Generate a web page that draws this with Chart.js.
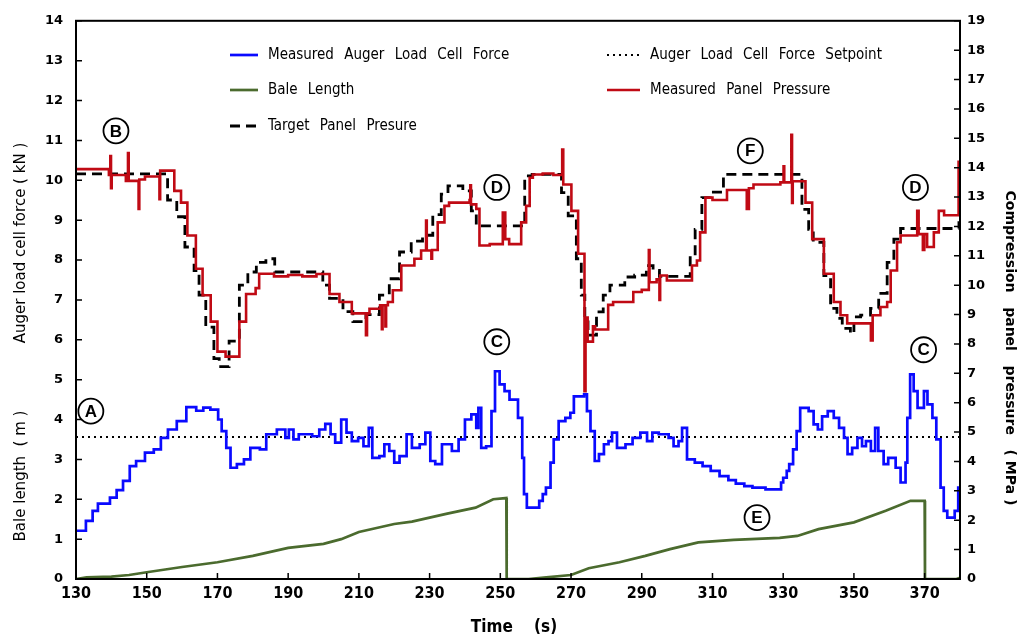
<!DOCTYPE html>
<html>
<head>
<meta charset="utf-8">
<script src="https://cdn.jsdelivr.net/npm/chart.js@4"></script>
<style>
  body { margin: 0; background: #fff; }
  #wrap { width: 1021px; height: 640px; }
</style>
</head>
<body>
<div id="wrap"><canvas id="myChart"></canvas></div>
<script>
// Dados: tempo (s) e valores de cada série
const forceTime = [130,132.8,134.7,136.2,139.6,141.5,143.3,145.2,147,149.5,152,154,156,158.5,161.2,164,166,168,170.2,171.2,172.5,173.7,175.5,177.5,179.3,182,183.8,186.8,189.2,190.2,191.5,193,196.8,198.8,200.5,202,203.3,205,206.5,208,209.8,211.3,212.8,213.8,215.8,217.2,218.6,220,221.5,223.5,225,227.2,228.8,230.2,231.6,233.5,236.3,238.2,240,241.8,243.2,243.8,244.6,246,247.5,248.5,249.8,251.2,252.6,255,256.2,256.7,257.5,261,262,262.9,264.2,265.1,266.5,268.4,269.8,270.8,273.7,274.5,275.5,276.7,277.9,279.3,280.6,281.6,283,285.4,287.4,289.6,291.5,293,294.8,297.6,299,300.4,301.4,302.8,305,307.2,309.5,312,314.5,316.6,319,321.3,325,329.4,330,331,331.7,332.8,333.8,334.8,337.2,338.6,339.8,341,342.6,344.3,345.8,347.2,348.2,349.5,351,352.3,353.4,354.8,356,356.9,358.4,359.7,361.8,363.2,364.6,365.1,365.9,366.9,368,369.8,370.8,372.2,373.3,374.5,375.4,376.4,378.5,379.5,380];
const forceKN = [1.21,1.46,1.71,1.89,2.04,2.23,2.46,2.83,2.96,3.17,3.25,3.54,3.75,3.96,4.31,4.22,4.3,4.25,4.0,3.71,3.29,2.79,2.88,3.0,3.29,3.25,3.63,3.75,3.54,3.75,3.5,3.63,3.58,3.75,3.89,3.63,3.42,4.0,3.67,3.46,3.54,3.33,3.79,3.04,3.08,3.38,3.21,2.92,3.08,3.63,3.29,3.38,3.67,2.96,2.88,3.38,3.21,3.5,4.0,4.13,3.79,4.29,3.29,3.33,4.21,5.21,4.88,4.71,4.5,4.04,3.04,2.13,1.79,1.96,2.13,2.29,2.92,3.5,3.96,4.04,4.17,4.58,4.63,4.21,3.71,2.96,3.13,3.38,3.46,3.67,3.29,3.38,3.54,3.67,3.46,3.67,3.63,3.54,3.33,3.46,3.79,3.0,2.92,2.83,2.71,2.58,2.48,2.39,2.33,2.29,2.25,2.42,2.54,2.71,2.88,3.25,3.71,4.29,4.21,3.88,3.75,4.08,4.21,4.04,3.79,3.54,3.13,3.29,3.54,3.33,3.46,3.21,3.79,3.21,2.88,3.04,2.79,2.42,2.92,4.04,5.13,4.71,4.29,4.71,4.38,4.04,3.5,2.29,1.71,1.54,1.71,2.29,2.29];

const setpointKN = 3.56;

const lengthTime = [130,133,140,145,150,160,170,180,190,200,205,210,220,225,235,243,248,251.7,251.8,258,263,270,275,283.7,291,298,306,316,329,334,340,350,359,366,370,370.1,379,380];
const lengthM = [0,0.04,0.06,0.1,0.17,0.3,0.42,0.58,0.78,0.88,1.0,1.18,1.38,1.44,1.64,1.79,2.0,2.03,0,0,0.04,0.1,0.27,0.42,0.58,0.75,0.92,0.98,1.03,1.08,1.25,1.42,1.71,1.96,1.96,0,0,0.03];

const pressureTime = [130,139.3,139.7,139.9,140.1,144.1,144.7,144.9,147.7,147.9,149.5,153.6,153.8,157.8,159.7,161.5,163.9,165.8,168.1,170,172.3,176.2,178.1,180.8,181.8,186,190,194,198,201.7,204.5,208,212,212.3,213,216,216.5,216.7,217.5,217.7,218.2,219.6,222,225.7,227.6,229,229.2,230.5,230.7,232.3,234.2,235.5,241.3,241.5,241.7,243.2,244.1,247,250.7,251.4,252.5,255.9,257.3,258.3,259.2,262,265,267.5,267.8,270.1,272,273.8,274.1,274.7,276.2,276.8,280.5,281.9,287.6,290,292,292.2,294.2,295,295.2,297.1,304.2,305.6,306.5,308,310,314.1,319.7,320.3,321.6,329.2,330.1,330.3,332.3,332.5,332.7,336.3,338.2,341.5,344.3,346.2,348.1,354.8,355.3,357.5,359.4,360.4,362.2,363.2,367.9,368.3,369.5,369.9,370.7,372.6,374,375.5,379.6,380];
const pressureMPa = [13.95,13.75,14.4,13.3,13.75,13.55,14.5,13.55,12.6,13.6,13.7,12.93,13.9,13.21,12.81,11.69,10.56,9.66,8.76,7.74,7.57,8.76,9.7,9.9,10.39,10.3,10.35,10.3,10.38,9.7,9.43,9.04,8.3,9.04,9.2,9.32,8.5,9.32,8.6,9.32,9.43,9.83,10.67,10.9,11.18,12.2,11.18,10.9,11.2,12.14,12.7,12.81,12.9,13.4,12.75,12.6,11.35,11.4,12.47,11.57,11.4,12.14,12.7,13.66,13.77,13.8,13.75,14.62,13.43,12.53,11.07,6.39,8.9,8.08,8.6,8.49,9.33,9.43,9.77,9.84,11.2,10.1,10.2,9.5,10.33,10.16,10.67,10.84,11.8,12.98,12.9,13.24,12.6,13.3,13.43,13.5,14.05,13.5,15.12,12.8,13.54,12.81,11.57,10.39,9.43,8.98,8.7,8.12,8.98,9.26,9.43,10.5,11.46,11.69,12.53,11.74,11.2,11.74,11.3,11.8,12.53,12.38,14.2,14.2];

const targetTime = [130,155.9,158.5,160.8,163.4,164.8,166.7,169,170.5,173.3,176.2,178.6,181,183.7,186.2,199.8,201.7,205.5,208.3,212,215.8,218.6,221.5,224.8,228,230.9,233.3,235.2,239.4,241.8,243.2,256.9,259,267.3,269.2,271.5,272.9,273.9,274.8,277.2,279.1,281,285.2,288,291.3,293.2,295,303.7,305.1,307,309.4,313.1,335.3,337.2,338.5,341.5,343.4,345.2,346.7,349,350,351.9,354.7,357,359.4,361.3,363.2,379.7,380];
const targetMPa = [13.79,12.9,12.33,11.3,10.5,9.66,8.57,7.5,7.23,8.1,10.0,10.45,10.78,10.9,10.45,10.0,9.55,9.1,8.76,9.0,9.66,10.22,11.13,11.5,11.7,12.4,13.1,13.38,13.21,12.53,12.02,13.72,13.77,13.15,12.36,10.9,9.66,8.75,8.3,9.09,9.66,10.0,10.28,10.34,10.67,10.5,10.3,11.0,11.9,12.98,13.17,13.77,12.58,11.9,11.46,10.33,9.21,8.87,8.53,8.36,8.92,8.98,9.21,9.72,10.78,11.57,11.93,12.13,12.13];

// Rótulos dos eixos
const xTicks = [130,150,170,190,210,230,250,270,290,310,330,350,370];
const yLeftTicks = [0,1,2,3,4,5,6,7,8,9,10,11,12,13,14];
const yRightTicks = [0,1,2,3,4,5,6,7,8,9,10,11,12,13,14,15,16,17,18,19];

// Letras circuladas (tempo, kN)
const markLetters = ['B','A','D','C','F','D','C','E'];
const markTime = [141.3,134.2,249,249,320.7,367.4,369.7,322.6];
const markKN = [11.24,4.21,9.82,5.95,10.74,9.82,5.75,1.54];

function pairs(xs, ys) {
    return xs.map((x, i) => ({ x: x, y: ys[i] }));
}

const narrow = "'Liberation Sans Narrow', 'DejaVu Sans Condensed', sans-serif";

const data = {
    datasets: [
        {
            label: 'Target Panel Presure',
            data: pairs(targetTime, targetMPa),
            yAxisID: 'y1',
            borderColor: '#000',
            borderDash: [10, 6],
            borderWidth: 2.8,
            stepped: true,
            order: 5
        },
        {
            label: 'Measured Panel Pressure',
            data: pairs(pressureTime, pressureMPa),
            yAxisID: 'y1',
            borderColor: '#c00a14',
            borderWidth: 2.6,
            stepped: true,
            order: 4
        },
        {
            label: 'Auger Load Cell Force Setpoint',
            data: pairs([130, 380], [setpointKN, setpointKN]),
            yAxisID: 'y',
            borderColor: '#000',
            borderDash: [2, 4],
            borderWidth: 2,
            order: 3
        },
        {
            label: 'Measured Auger Load Cell Force',
            data: pairs(forceTime, forceKN),
            yAxisID: 'y',
            borderColor: '#0a0aff',
            borderWidth: 2.7,
            stepped: true,
            order: 2
        },
        {
            label: 'Bale Length',
            data: pairs(lengthTime, lengthM),
            yAxisID: 'y',
            borderColor: '#4b6b2e',
            borderWidth: 2.7,
            order: 1
        }
    ]
};

// legenda: posição de cada entrada (índice do dataset)
const legendSlots = [
    { ds: 3, x: 230, y: 55, len: 28 },
    { ds: 2, x: 607, y: 55, len: 33 },
    { ds: 4, x: 230, y: 90, len: 28 },
    { ds: 1, x: 607, y: 90, len: 33 },
    { ds: 0, x: 230, y: 126, len: 28 }
];

const extras = {
    id: 'extras',
    afterDraw(chart) {
        const { ctx, chartArea: a, scales } = chart;
        ctx.save();
        ctx.strokeStyle = '#000';
        ctx.fillStyle = '#000';

        // moldura
        ctx.lineWidth = 2;
        ctx.setLineDash([]);
        ctx.strokeRect(a.left, a.top, a.right - a.left, a.bottom - a.top);

        // marcas internas
        ctx.lineWidth = 1.5;
        ctx.beginPath();
        scales.y.ticks.forEach(t => {
            const p = scales.y.getPixelForValue(t.value);
            ctx.moveTo(a.left, p); ctx.lineTo(a.left + 6, p);
        });
        scales.y1.ticks.forEach(t => {
            const p = scales.y1.getPixelForValue(t.value);
            ctx.moveTo(a.right, p); ctx.lineTo(a.right - 6, p);
        });
        scales.x.ticks.forEach(t => {
            const p = scales.x.getPixelForValue(t.value);
            ctx.moveTo(p, a.bottom); ctx.lineTo(p, a.bottom - 6);
        });
        ctx.stroke();

        // legenda
        ctx.font = "15px " + narrow;
        ctx.textBaseline = 'middle';
        ctx.textAlign = 'left';
        ctx.wordSpacing = '6px';
        legendSlots.forEach(s => {
            const d = chart.data.datasets[s.ds];
            ctx.save();
            ctx.strokeStyle = d.borderColor;
            ctx.lineWidth = d.borderWidth;
            ctx.setLineDash(d.borderDash || []);
            ctx.beginPath();
            ctx.moveTo(s.x, s.y); ctx.lineTo(s.x + s.len, s.y);
            ctx.stroke();
            ctx.restore();
            ctx.fillText(d.label, s.x + s.len + 10, s.y);
        });
        ctx.wordSpacing = '0px';

        // letras circuladas
        ctx.font = "bold 17px 'Liberation Sans', sans-serif";
        ctx.textAlign = 'center';
        ctx.lineWidth = 1.8;
        markLetters.forEach((L, i) => {
            const cx = scales.x.getPixelForValue(markTime[i]);
            const cy = scales.y.getPixelForValue(markKN[i]);
            ctx.fillStyle = '#fff';
            ctx.beginPath();
            ctx.arc(cx, cy, 12.5, 0, Math.PI * 2);
            ctx.fill();
            ctx.stroke();
            ctx.fillStyle = '#000';
            ctx.fillText(L, cx, cy + 1);
        });

        // títulos dos eixos
        ctx.font = "15px 'DejaVu Sans', sans-serif";
        ctx.save();
        ctx.translate(21, 0);
        ctx.rotate(-Math.PI / 2);
        ctx.fillText('Bale length  ( m )', -476, 0);
        ctx.fillText('Auger load cell force ( kN )', -243, 0);
        ctx.restore();

        ctx.font = "bold 14px 'DejaVu Sans', sans-serif";
        ctx.save();
        ctx.translate(1010, 348);
        ctx.rotate(Math.PI / 2);
        ctx.fillText('Compression   panel   pressure   ( MPa )', 0, 0);
        ctx.restore();

        ctx.font = "bold 17px " + narrow;
        ctx.fillText('Time    (s)', 514, 628);
        ctx.restore();
    }
};

const tickFont = { family: "'DejaVu Sans', sans-serif", weight: 'bold', size: 13 };

const options = {
    responsive: true,
    maintainAspectRatio: false,
    animation: false,
    layout: { padding: { top: 17, left: 0, right: 0, bottom: 0 } },
    elements: { point: { radius: 0 } },
    plugins: { legend: { display: false }, tooltip: { enabled: false } },
    scales: {
        x: {
            type: 'linear',
            min: 130,
            max: 380,
            grid: { display: false, drawTicks: false },
            border: { display: false },
            ticks: {
                color: '#000',
                font: { family: narrow, weight: 'bold', size: 16 },
                padding: 5,
                maxRotation: 0,
                autoSkip: false
            },
            afterBuildTicks: s => { s.ticks = xTicks.map(v => ({ value: v })); },
            afterFit: s => { s.height = 61; }
        },
        y: {
            position: 'left',
            min: 0,
            max: 14,
            grid: { display: false, drawTicks: false },
            border: { display: false },
            ticks: { color: '#000', font: tickFont, padding: 13 },
            afterBuildTicks: s => { s.ticks = yLeftTicks.map(v => ({ value: v })); },
            afterFit: s => { s.width = 76; }
        },
        y1: {
            position: 'right',
            min: 0,
            max: 19,
            grid: { display: false, drawTicks: false },
            border: { display: false },
            ticks: { color: '#000', font: tickFont, padding: 7 },
            afterBuildTicks: s => { s.ticks = yRightTicks.map(v => ({ value: v })); },
            afterFit: s => { s.width = 61; }
        }
    }
};

const ctx = document.getElementById('myChart').getContext('2d');
const myChart = new Chart(ctx, {
    type: 'line',
    data: data,
    options: options,
    plugins: [extras]
});
</script>
</body>
</html>
